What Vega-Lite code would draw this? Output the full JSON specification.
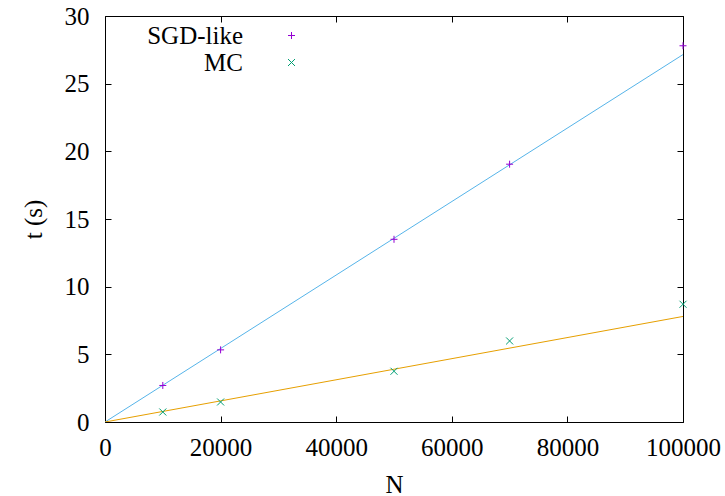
{
  "$schema": "https://vega.github.io/schema/vega-lite/v6.json",
  "width": 578,
  "height": 406,
  "autosize": {"type": "none"},
  "padding": {"left": 105, "top": 16, "right": 42, "bottom": 74},
  "background": "white",
  "config": {
    "view": {"stroke": "black", "strokeWidth": 1},
    "axis": {
      "labelFont": "Liberation Serif",
      "labelFontSize": 25,
      "labelColor": "black",
      "titleFont": "Liberation Serif",
      "titleFontSize": 25,
      "titleFontWeight": "normal",
      "titleColor": "black",
      "grid": false,
      "domain": false,
      "tickColor": "black",
      "tickWidth": 1,
      "tickSize": -6
    }
  },
  "data": {
    "values": [
      {"N": 10000, "t": 2.7, "series": "SGD-like", "kind": "data"},
      {"N": 20000, "t": 5.33, "series": "SGD-like", "kind": "data"},
      {"N": 50000, "t": 13.5, "series": "SGD-like", "kind": "data"},
      {"N": 70000, "t": 19.05, "series": "SGD-like", "kind": "data"},
      {"N": 100000, "t": 27.8, "series": "SGD-like", "kind": "data"},
      {"N": 10000, "t": 0.74, "series": "MC", "kind": "data"},
      {"N": 20000, "t": 1.48, "series": "MC", "kind": "data"},
      {"N": 50000, "t": 3.75, "series": "MC", "kind": "data"},
      {"N": 70000, "t": 5.99, "series": "MC", "kind": "data"},
      {"N": 100000, "t": 8.7, "series": "MC", "kind": "data"},
      {"N": 0, "t": 0, "series": "SGD-like", "kind": "fit"},
      {"N": 100000, "t": 27.15, "series": "SGD-like", "kind": "fit"},
      {"N": 0, "t": 0, "series": "MC", "kind": "fit"},
      {"N": 100000, "t": 7.8, "series": "MC", "kind": "fit"}
    ]
  },
  "layer": [
    {
      "transform": [{"filter": "datum.kind === 'fit' && datum.series === 'SGD-like'"}],
      "mark": {"type": "line", "strokeWidth": 1, "color": "#56b4e9", "clip": true},
      "encoding": {
        "x": {
          "field": "N", "type": "quantitative",
          "scale": {"domain": [0, 100000], "nice": false},
          "axis": {"title": "N", "values": [0, 20000, 40000, 60000, 80000, 100000], "format": "d", "labelPadding": 19, "labelFlush": false, "titleX": 289, "titleY": 62, "titleBaseline": "middle", "titleAlign": "center"}
        },
        "y": {
          "field": "t", "type": "quantitative",
          "scale": {"domain": [0, 30], "nice": false},
          "axis": {"title": "t (s)", "values": [0, 5, 10, 15, 20, 25, 30], "labelPadding": 22, "labelFlush": false, "titleX": -72, "titleY": 203, "titleAngle": -90, "titleBaseline": "middle", "titleAlign": "center"}
        }
      }
    },
    {
      "transform": [{"filter": "datum.kind === 'fit' && datum.series === 'MC'"}],
      "mark": {"type": "line", "strokeWidth": 1, "color": "#e69f00", "clip": true},
      "encoding": {
        "x": {"field": "N", "type": "quantitative", "scale": {"domain": [0, 100000], "nice": false}, "axis": null},
        "y": {"field": "t", "type": "quantitative", "scale": {"domain": [0, 30], "nice": false}, "axis": null}
      }
    },
    {
      "transform": [{"filter": "datum.kind === 'data'"}],
      "mark": {"type": "point", "filled": false, "strokeWidth": 1, "size": 49, "opacity": 1},
      "encoding": {
        "x": {
          "field": "N", "type": "quantitative",
          "scale": {"domain": [0, 100000], "nice": false},
          "axis": {"orient": "top", "labels": false, "title": null, "values": [0, 20000, 40000, 60000, 80000, 100000]}
        },
        "y": {
          "field": "t", "type": "quantitative",
          "scale": {"domain": [0, 30], "nice": false},
          "axis": {"orient": "right", "labels": false, "title": null, "values": [0, 5, 10, 15, 20, 25, 30]}
        },
        "color": {
          "field": "series", "type": "nominal",
          "scale": {"domain": ["SGD-like", "MC"], "range": ["#9400d3", "#009e73"]},
          "legend": {
            "orient": "none", "legendX": 174, "legendY": 7, "title": null,
            "labelAlign": "right", "labelOffset": -61, "labelFontSize": 25,
            "labelFont": "Liberation Serif", "labelColor": "black",
            "symbolStrokeWidth": 1, "symbolSize": 49, "rowPadding": 1
          }
        },
        "shape": {
          "field": "series", "type": "nominal",
          "scale": {"domain": ["SGD-like", "MC"], "range": ["M-1,0L1,0M0,-1L0,1", "M-1,-1L1,1M-1,1L1,-1"]},
          "legend": {
            "orient": "none", "legendX": 174, "legendY": 7, "title": null,
            "labelAlign": "right", "labelOffset": -61, "labelFontSize": 25,
            "labelFont": "Liberation Serif", "labelColor": "black",
            "symbolStrokeWidth": 1, "symbolSize": 49, "rowPadding": 1
          }
        }
      }
    }
  ],
  "resolve": {
    "axis": {"x": "independent", "y": "independent"}
  }
}
